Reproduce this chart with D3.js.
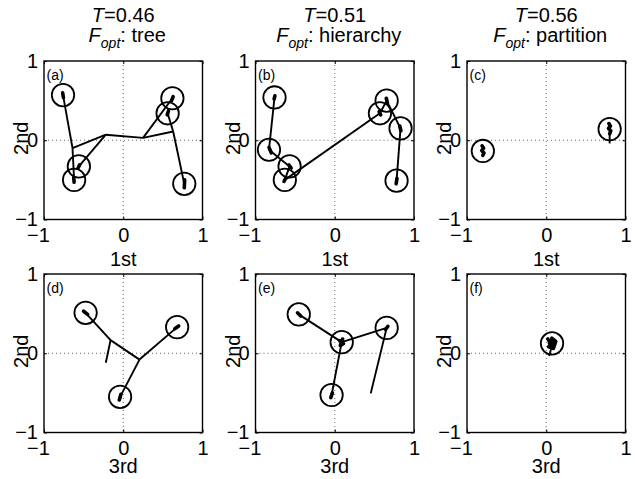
<!DOCTYPE html>
<html>
<head>
<meta charset="utf-8">
<script src="https://cdn.jsdelivr.net/npm/d3@7"></script>
<style>
  body { margin: 0; background: #fff; }
  svg { display: block; font-family: "Liberation Sans", Arial, Helvetica, sans-serif; }
</style>
</head>
<body>
<svg></svg>
<script>
let width = 635, height = 479

// titles and labels
let temps = ['0.46', '0.51', '0.56']
let phases = ['tree', 'hierarchy', 'partition']
let letters = ['a', 'b', 'c', 'd', 'e', 'f']
let xNames = ['1st', '3rd']
let yName = '2nd'
let ticks = [-1, 0, 1]

// cluster centres (circles), tree branches, and member points for each panel
let nodesA = [[-0.76, 0.57], [0.62, 0.53], [0.56, 0.34], [-0.56, -0.33], [-0.62, -0.50], [0.77, -0.55]]
let edgesA = [
    [[-0.76, 0.57], [-0.64, -0.10]],
    [[-0.64, -0.10], [-0.62, -0.50]],
    [[-0.64, -0.10], [-0.22, 0.07]],
    [[-0.22, 0.07], [-0.56, -0.33]],
    [[-0.22, 0.07], [0.25, 0.03]],
    [[0.25, 0.03], [0.62, 0.53]],
    [[0.25, 0.03], [0.63, 0.11]],
    [[0.63, 0.11], [0.56, 0.34]],
    [[0.63, 0.11], [0.77, -0.55]]
]
let membersA = [
    [[-0.765, 0.60], [-0.755, 0.54]],
    [[0.63, 0.55], [0.61, 0.50]],
    [[0.57, 0.37], [0.555, 0.32]],
    [[-0.55, -0.31], [-0.57, -0.35]],
    [[-0.625, -0.47], [-0.62, -0.53]],
    [[0.775, -0.50], [0.77, -0.60]]
]

let nodesB = [[-0.76, 0.54], [-0.83, -0.12], [-0.57, -0.33], [-0.63, -0.50], [0.655, 0.50], [0.57, 0.34], [0.83, 0.15], [0.78, -0.51]]
let edgesB = [
    [[-0.76, 0.54], [-0.83, -0.12]],
    [[-0.83, -0.12], [-0.57, -0.33]],
    [[-0.57, -0.33], [-0.63, -0.50]],
    [[-0.63, -0.50], [0.57, 0.34]],
    [[0.57, 0.34], [0.655, 0.50]],
    [[0.655, 0.50], [0.83, 0.15]],
    [[0.83, 0.15], [0.78, -0.51]]
]
let membersB = [
    [[-0.755, 0.56], [-0.765, 0.52]],
    [[-0.83, -0.09], [-0.80, -0.16]],
    [[-0.58, -0.31], [-0.55, -0.35]],
    [[-0.62, -0.48], [-0.64, -0.52]],
    [[0.65, 0.53], [0.665, 0.47]],
    [[0.56, 0.36], [0.58, 0.32]],
    [[0.82, 0.18], [0.835, 0.12]],
    [[0.785, -0.48], [0.775, -0.55]]
]

let nodesC = [[-0.80, -0.135], [0.80, 0.14]]
let edgesC = [
    [[0.80, 0.10], [0.80, -0.04]]
]
let membersC = [
    [[-0.81, -0.07], [-0.79, -0.10], [-0.815, -0.13], [-0.785, -0.16], [-0.80, -0.19]],
    [[0.79, 0.21], [0.81, 0.18], [0.785, 0.15], [0.815, 0.12], [0.80, 0.08]]
]

let nodesD = [[-0.475, 0.51], [0.68, 0.33], [-0.04, -0.55]]
let edgesD = [
    [[-0.475, 0.51], [-0.16, 0.166]],
    [[-0.16, 0.166], [-0.22, -0.12]],
    [[-0.16, 0.166], [0.205, -0.08]],
    [[0.205, -0.08], [0.68, 0.33]],
    [[0.205, -0.08], [-0.04, -0.55]]
]
let membersD = [
    [[-0.50, 0.53], [-0.45, 0.49]],
    [[0.70, 0.345], [0.65, 0.31]],
    [[-0.03, -0.52], [-0.05, -0.59]]
]

let nodesE = [[-0.454, 0.49], [0.088, 0.14], [0.655, 0.32], [-0.04, -0.527]]
let edgesE = [
    [[-0.454, 0.49], [0.088, 0.14]],
    [[0.088, 0.14], [0.655, 0.32]],
    [[0.088, 0.14], [-0.04, -0.527]],
    [[0.655, 0.32], [0.454, -0.506]]
]
let membersE = [
    [[-0.47, 0.51], [-0.43, 0.47]],
    [[0.06, 0.16], [0.11, 0.12], [0.07, 0.10], [0.10, 0.18]],
    [[0.67, 0.34], [0.64, 0.30]],
    [[-0.03, -0.50], [-0.05, -0.56]]
]

let nodesF = [[0.073, 0.124]]
let edgesF = [
    [[0.06, 0.05], [0.036, -0.035]]
]
let membersF = [
    [[0.02, 0.18], [0.06, 0.12], [0.03, 0.08], [0.09, 0.06], [0.12, 0.15], [0.07, 0.19], [0.10, 0.10], [0.04, 0.13]]
]

let panels = [
    {nodes: nodesA, edges: edgesA, members: membersA},
    {nodes: nodesB, edges: edgesB, members: membersB},
    {nodes: nodesC, edges: edgesC, members: membersC},
    {nodes: nodesD, edges: edgesD, members: membersD},
    {nodes: nodesE, edges: edgesE, members: membersE},
    {nodes: nodesF, edges: edgesF, members: membersF}
]

// layout
let colX = [44, 255.5, 467]
let rowY = [61, 274]
let size = 158.5
let radius = 11.2
let xLabelGap = [46, 40]

let svg = d3.select("svg").attr("width", width).attr("height", height)

const fmt = d => String(d).replace("-", "\u2212")

const drawPanel = (p, i) => {
    let col = i % 3, row = Math.floor(i / 3)
    let g = svg.append("g").attr("transform", `translate(${colX[col]},${rowY[row]})`)

    let x = d3.scaleLinear().domain([-1, 1]).range([0, size])
    let y = d3.scaleLinear().domain([-1, 1]).range([size, 0])
    let line = d3.line().x(d => x(d[0])).y(d => y(d[1]))

    // dotted zero lines
    g.append("line").attr("x1", x(0)).attr("x2", x(0)).attr("y1", 0).attr("y2", size)
        .attr("stroke", "#555").attr("stroke-width", 0.9).attr("stroke-dasharray", "1,3")
    g.append("line").attr("x1", 0).attr("x2", size).attr("y1", y(0)).attr("y2", y(0))
        .attr("stroke", "#555").attr("stroke-width", 0.9).attr("stroke-dasharray", "1,3")

    g.selectAll(".edge").data(p.edges).enter().append("path")
        .attr("class", "edge")
        .attr("d", line)
        .attr("fill", "none").attr("stroke", "#000").attr("stroke-width", 1.9)

    g.selectAll(".member").data(p.members).enter().append("path")
        .attr("class", "member")
        .attr("d", line)
        .attr("fill", "none").attr("stroke", "#000").attr("stroke-width", 3.6)
        .attr("stroke-linecap", "round").attr("stroke-linejoin", "round")

    g.selectAll(".node").data(p.nodes).enter().append("circle")
        .attr("class", "node")
        .attr("cx", d => x(d[0])).attr("cy", d => y(d[1])).attr("r", radius)
        .attr("fill", "none").attr("stroke", "#000").attr("stroke-width", 1.8)

    // box and inward ticks
    g.append("g").attr("transform", `translate(0,${size})`)
        .call(d3.axisBottom(x).tickValues(ticks).tickSize(-3).tickFormat(fmt).tickPadding(8))
        .call(a => a.select(".domain").remove())
        .call(a => a.selectAll(".tick text").attr("dx", d => d < 0 ? -6 : 0))
    g.append("g")
        .call(d3.axisLeft(y).tickValues(ticks).tickSize(-3).tickFormat(fmt).tickPadding(6))
        .call(a => a.select(".domain").remove())
    g.append("g").call(d3.axisTop(x).tickValues(ticks).tickSize(-3).tickFormat(""))
        .call(a => a.select(".domain").remove())
    g.append("g").attr("transform", `translate(${size},0)`)
        .call(d3.axisRight(y).tickValues(ticks).tickSize(-3).tickFormat(""))
        .call(a => a.select(".domain").remove())
    g.selectAll(".tick line").attr("stroke", "#000").attr("stroke-width", 1)
    g.selectAll(".tick text").attr("font-size", 20).attr("fill", "#000").attr("font-family", null)

    g.append("rect").attr("width", size).attr("height", size)
        .attr("fill", "none").attr("stroke", "#000").attr("stroke-width", 1.4)

    g.append("text").attr("x", 2.5).attr("y", 18.5).attr("font-size", 14).text(`(${letters[i]})`)

    g.append("text").attr("x", size / 2).attr("y", size + xLabelGap[row]).attr("text-anchor", "middle")
        .attr("font-size", 20).text(xNames[row])
    g.append("text").attr("transform", `translate(-16,${size / 2 - 2}) rotate(-90)`)
        .attr("text-anchor", "middle").attr("font-size", 20).text(yName)

    if (row === 0) {
        let t1 = g.append("text").attr("x", size / 2).attr("y", -39).attr("text-anchor", "middle").attr("font-size", 20)
        t1.append("tspan").attr("font-style", "italic").text("T")
        t1.append("tspan").text(`=${temps[col]}`)
        let t2 = g.append("text").attr("x", size / 2 + 4).attr("y", -19).attr("text-anchor", "middle").attr("font-size", 20)
        t2.append("tspan").attr("font-style", "italic").text("F")
        t2.append("tspan").attr("font-style", "italic").attr("font-size", 14).attr("dy", 6).text("opt")
        t2.append("tspan").attr("dy", -6).text(`: ${phases[col]}`)
    }
}

panels.forEach(drawPanel)
</script>
</body>
</html>
